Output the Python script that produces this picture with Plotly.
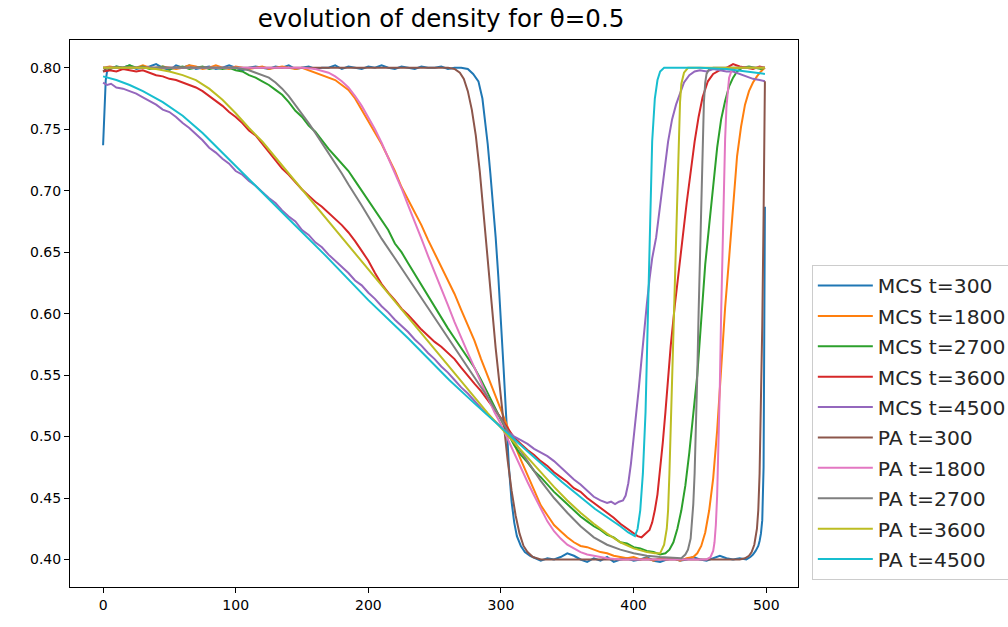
import plotly.graph_objects as go

# ---- data: (position, density) pairs ----
MCS_300 = [(0,0.737),(1,0.772),(2,0.790),(3,0.797),(5,0.799),(10,0.801),(15,0.800),(20,0.802),(25,0.799),(30,0.800),(35,0.801),(40,0.803),(45,0.800),(50,0.798),(55,0.802),(60,0.800),(65,0.802),(70,0.799),(75,0.800),(80,0.801),(85,0.799),(90,0.800),(95,0.802),(100,0.800),(105,0.798),(110,0.800),(115,0.801),(120,0.800),(125,0.799),(130,0.801),(135,0.800),(140,0.802),(145,0.799),(150,0.800),(155,0.801),(160,0.799),(165,0.800),(170,0.800),(175,0.802),(180,0.799),(185,0.801),(190,0.800),(195,0.799),(200,0.801),(205,0.800),(210,0.802),(215,0.800),(220,0.799),(225,0.801),(230,0.800),(235,0.799),(240,0.801),(245,0.800),(250,0.800),(255,0.801),(260,0.799),(265,0.800),(270,0.800),(275,0.799),(279,0.795),(283,0.789),(286,0.775),(288,0.758),(290,0.738),(292,0.714),(294,0.690),(296,0.662),(298,0.630),(300,0.595),(302,0.555),(304,0.515),(306,0.475),(308,0.447),(310,0.430),(312,0.419),(315,0.411),(318,0.406),(322,0.403),(326,0.401),(330,0.399),(335,0.401),(340,0.400),(345,0.402),(350,0.405),(355,0.403),(360,0.400),(365,0.398),(370,0.401),(375,0.399),(380,0.402),(385,0.398),(390,0.400),(395,0.401),(400,0.399),(405,0.400),(410,0.402),(415,0.399),(420,0.398),(425,0.400),(430,0.401),(435,0.399),(440,0.400),(445,0.402),(450,0.400),(455,0.399),(460,0.401),(465,0.403),(470,0.401),(475,0.400),(480,0.401),(485,0.400),(488,0.402),(490,0.404),(492,0.407),(494,0.411),(495,0.415),(496,0.421),(497,0.432),(498,0.475),(499,0.687)]

MCS_1800 = [(0,0.800),(5,0.801),(10,0.800),(15,0.799),(20,0.801),(25,0.800),(30,0.802),(35,0.800),(40,0.799),(45,0.801),(50,0.800),(55,0.799),(60,0.800),(65,0.802),(70,0.801),(75,0.799),(80,0.800),(85,0.802),(90,0.800),(95,0.799),(100,0.801),(105,0.800),(110,0.799),(115,0.800),(120,0.801),(125,0.799),(130,0.800),(135,0.801),(140,0.800),(145,0.799),(150,0.800),(155,0.798),(160,0.796),(165,0.794),(170,0.792),(175,0.790),(180,0.786),(185,0.782),(190,0.775),(195,0.766),(200,0.757),(205,0.747),(210,0.738),(215,0.727),(220,0.716),(225,0.703),(230,0.693),(235,0.682),(240,0.672),(245,0.660),(250,0.649),(255,0.639),(260,0.628),(265,0.616),(270,0.603),(275,0.591),(280,0.578),(285,0.563),(290,0.549),(295,0.535),(300,0.522),(305,0.508),(310,0.494),(315,0.481),(320,0.469),(325,0.457),(330,0.444),(335,0.436),(340,0.428),(345,0.423),(350,0.418),(355,0.414),(360,0.411),(365,0.410),(370,0.408),(375,0.406),(380,0.405),(385,0.403),(390,0.402),(395,0.401),(400,0.402),(405,0.400),(410,0.401),(415,0.399),(420,0.401),(425,0.400),(430,0.401),(435,0.399),(440,0.401),(445,0.402),(448,0.405),(451,0.411),(454,0.422),(457,0.440),(460,0.466),(463,0.505),(466,0.555),(469,0.605),(472,0.645),(475,0.690),(478,0.728),(481,0.752),(484,0.770),(487,0.781),(490,0.788),(493,0.793),(496,0.797),(499,0.800)]

MCS_2700 = [(0,0.800),(5,0.799),(10,0.801),(15,0.800),(20,0.802),(25,0.800),(30,0.801),(35,0.799),(40,0.800),(45,0.801),(50,0.799),(55,0.800),(60,0.801),(65,0.799),(70,0.800),(75,0.801),(80,0.799),(85,0.800),(90,0.799),(95,0.800),(100,0.798),(105,0.797),(110,0.794),(115,0.792),(120,0.789),(125,0.786),(130,0.782),(135,0.778),(140,0.772),(145,0.765),(150,0.760),(155,0.753),(160,0.748),(165,0.741),(170,0.734),(175,0.728),(180,0.722),(185,0.716),(190,0.708),(195,0.700),(200,0.692),(205,0.684),(210,0.677),(215,0.668),(220,0.657),(225,0.650),(230,0.641),(235,0.632),(240,0.623),(245,0.614),(250,0.606),(255,0.597),(260,0.588),(265,0.580),(270,0.572),(275,0.564),(280,0.556),(285,0.546),(290,0.535),(295,0.524),(300,0.514),(305,0.503),(310,0.493),(315,0.485),(320,0.479),(325,0.472),(330,0.467),(335,0.461),(340,0.455),(345,0.450),(350,0.445),(355,0.440),(360,0.435),(365,0.431),(370,0.427),(375,0.424),(380,0.420),(385,0.418),(390,0.414),(395,0.413),(400,0.410),(405,0.409),(410,0.407),(415,0.406),(420,0.404),(424,0.405),(427,0.408),(430,0.414),(433,0.425),(436,0.440),(439,0.460),(442,0.487),(445,0.518),(448,0.550),(451,0.595),(454,0.640),(457,0.672),(460,0.706),(463,0.735),(466,0.758),(469,0.773),(472,0.785),(475,0.792),(478,0.797),(482,0.800),(487,0.801),(492,0.800),(496,0.799),(499,0.800)]

MCS_3600 = [(0,0.797),(5,0.798),(10,0.797),(15,0.799),(20,0.798),(25,0.797),(30,0.798),(35,0.796),(40,0.794),(45,0.793),(50,0.791),(55,0.790),(60,0.788),(65,0.786),(70,0.784),(75,0.781),(80,0.777),(85,0.773),(90,0.769),(95,0.764),(100,0.760),(105,0.755),(110,0.749),(115,0.745),(120,0.738),(125,0.731),(130,0.725),(135,0.718),(140,0.713),(145,0.707),(150,0.701),(155,0.696),(160,0.691),(165,0.687),(170,0.682),(175,0.677),(180,0.672),(185,0.666),(190,0.659),(195,0.651),(200,0.643),(205,0.633),(210,0.624),(215,0.617),(220,0.611),(225,0.604),(230,0.599),(235,0.593),(240,0.587),(245,0.582),(250,0.577),(255,0.573),(260,0.568),(265,0.563),(270,0.556),(275,0.549),(280,0.543),(285,0.537),(290,0.530),(295,0.522),(300,0.515),(305,0.507),(310,0.499),(315,0.494),(320,0.489),(325,0.485),(330,0.480),(335,0.476),(340,0.471),(345,0.467),(350,0.463),(355,0.458),(360,0.455),(365,0.450),(370,0.446),(375,0.442),(380,0.438),(385,0.434),(390,0.429),(395,0.425),(400,0.421),(403,0.419),(406,0.418),(409,0.421),(412,0.424),(414,0.430),(416,0.440),(418,0.453),(420,0.472),(422,0.495),(424,0.520),(426,0.548),(428,0.574),(431,0.606),(434,0.636),(437,0.662),(440,0.690),(443,0.715),(446,0.740),(449,0.760),(452,0.776),(456,0.789),(460,0.795),(465,0.798),(470,0.800),(475,0.803),(480,0.801),(485,0.800),(490,0.799),(495,0.801),(499,0.800)]

MCS_4500 = [(0,0.788),(3,0.786),(6,0.787),(10,0.784),(15,0.783),(20,0.781),(25,0.779),(30,0.776),(35,0.773),(40,0.770),(45,0.766),(50,0.764),(55,0.760),(60,0.755),(65,0.751),(70,0.746),(75,0.741),(80,0.735),(85,0.731),(90,0.726),(95,0.722),(100,0.716),(105,0.713),(110,0.708),(115,0.704),(120,0.699),(125,0.694),(130,0.690),(135,0.684),(140,0.679),(145,0.675),(150,0.668),(155,0.664),(160,0.658),(165,0.654),(170,0.648),(175,0.643),(180,0.638),(185,0.633),(190,0.627),(195,0.623),(200,0.617),(205,0.612),(210,0.606),(215,0.601),(220,0.595),(225,0.590),(230,0.585),(235,0.579),(240,0.574),(245,0.568),(250,0.563),(255,0.557),(260,0.552),(265,0.546),(270,0.540),(275,0.535),(280,0.529),(285,0.523),(290,0.518),(295,0.513),(300,0.508),(305,0.504),(310,0.500),(315,0.497),(320,0.494),(325,0.490),(330,0.487),(335,0.484),(340,0.480),(345,0.475),(350,0.470),(355,0.465),(360,0.461),(365,0.456),(370,0.451),(375,0.448),(380,0.446),(383,0.447),(386,0.445),(389,0.447),(392,0.448),(394,0.452),(396,0.462),(398,0.478),(400,0.497),(402,0.518),(404,0.540),(406,0.563),(408,0.588),(410,0.608),(412,0.628),(414,0.645),(417,0.662),(420,0.690),(423,0.714),(426,0.740),(429,0.758),(432,0.770),(435,0.779),(438,0.788),(442,0.794),(446,0.797),(450,0.798),(455,0.797),(460,0.799),(465,0.798),(470,0.797),(475,0.797),(480,0.795),(485,0.793),(490,0.791),(495,0.790),(499,0.789)]

PA_300 = [(0,0.797),(3,0.800),(50,0.800),(100,0.800),(150,0.800),(200,0.800),(250,0.800),(260,0.800),(265,0.799),(269,0.796),(272,0.791),(275,0.781),(278,0.766),(281,0.745),(284,0.716),(287,0.682),(290,0.645),(293,0.608),(296,0.572),(299,0.540),(302,0.510),(305,0.481),(308,0.456),(311,0.436),(314,0.421),(317,0.411),(320,0.406),(324,0.402),(330,0.400),(400,0.400),(480,0.400),(484,0.401),(487,0.403),(489,0.406),(491,0.412),(493,0.425),(494,0.440),(495,0.470),(496,0.520),(497,0.590),(498,0.680),(499,0.789)]

PA_1800 = [(0,0.800),(100,0.800),(150,0.800),(160,0.799),(170,0.796),(175,0.793),(180,0.789),(185,0.784),(190,0.777),(195,0.769),(200,0.760),(205,0.750),(210,0.739),(215,0.727),(220,0.715),(225,0.702),(230,0.688),(235,0.675),(240,0.661),(245,0.647),(250,0.634),(255,0.620),(260,0.607),(265,0.593),(270,0.580),(275,0.568),(280,0.556),(285,0.544),(290,0.532),(295,0.520),(300,0.510),(305,0.498),(310,0.486),(315,0.474),(320,0.463),(325,0.452),(330,0.441),(335,0.431),(340,0.423),(345,0.417),(350,0.412),(355,0.409),(360,0.406),(365,0.404),(370,0.403),(375,0.402),(380,0.401),(390,0.400),(455,0.400),(458,0.402),(460,0.407),(461,0.414),(462,0.428),(463,0.452),(464,0.490),(465,0.540),(466,0.600),(467,0.655),(468,0.705),(469,0.742),(470,0.768),(471,0.783),(472,0.792),(474,0.798),(477,0.800),(499,0.800)]

PA_2700 = [(0,0.800),(50,0.800),(100,0.800),(110,0.798),(115,0.796),(120,0.794),(125,0.792),(130,0.788),(135,0.783),(140,0.777),(145,0.770),(150,0.763),(155,0.755),(160,0.747),(165,0.739),(170,0.731),(175,0.722),(180,0.714),(185,0.705),(190,0.697),(195,0.688),(200,0.679),(205,0.670),(210,0.661),(220,0.645),(230,0.629),(240,0.613),(250,0.597),(260,0.581),(270,0.565),(280,0.548),(290,0.532),(300,0.514),(305,0.505),(310,0.496),(320,0.480),(330,0.464),(340,0.450),(350,0.438),(360,0.427),(370,0.418),(380,0.412),(390,0.408),(400,0.405),(410,0.403),(420,0.402),(430,0.401),(436,0.401),(439,0.404),(441,0.408),(443,0.417),(444,0.428),(445,0.445),(446,0.470),(447,0.505),(448,0.550),(449,0.600),(450,0.648),(451,0.700),(452,0.745),(453,0.772),(454,0.788),(455,0.795),(457,0.799),(460,0.800),(499,0.800)]

PA_3600 = [(0,0.800),(20,0.800),(30,0.800),(40,0.799),(50,0.797),(60,0.794),(70,0.790),(80,0.783),(90,0.774),(100,0.763),(110,0.751),(120,0.740),(130,0.727),(140,0.714),(150,0.701),(160,0.688),(170,0.675),(180,0.662),(190,0.649),(200,0.636),(210,0.623),(220,0.610),(230,0.597),(240,0.584),(250,0.571),(260,0.558),(270,0.545),(280,0.532),(290,0.519),(300,0.507),(310,0.495),(320,0.483),(330,0.471),(340,0.459),(350,0.448),(360,0.438),(370,0.429),(380,0.421),(390,0.414),(400,0.409),(410,0.406),(416,0.405),(420,0.405),(423,0.412),(425,0.425),(426,0.440),(427,0.470),(428,0.510),(429,0.550),(430,0.590),(431,0.625),(432,0.660),(433,0.700),(434,0.740),(435,0.772),(436,0.787),(438,0.796),(441,0.800),(499,0.800)]

PA_4500 = [(0,0.793),(10,0.790),(20,0.786),(30,0.781),(45,0.772),(60,0.761),(75,0.747),(90,0.731),(105,0.715),(120,0.699),(140,0.677),(167,0.648),(200,0.611),(230,0.580),(261,0.546),(280,0.527),(303,0.505),(321,0.487),(346,0.463),(371,0.441),(390,0.427),(396,0.422),(401,0.419),(403,0.425),(405,0.440),(407,0.470),(409,0.520),(411,0.600),(412,0.650),(413,0.700),(414,0.740),(416,0.775),(418,0.790),(420,0.797),(423,0.800),(450,0.800),(470,0.799),(485,0.797),(499,0.795)]

SERIES = [
    ("MCS t=300", MCS_300, "#1f77b4"),
    ("MCS t=1800", MCS_1800, "#ff7f0e"),
    ("MCS t=2700", MCS_2700, "#2ca02c"),
    ("MCS t=3600", MCS_3600, "#d62728"),
    ("MCS t=4500", MCS_4500, "#9467bd"),
    ("PA t=300", PA_300, "#8c564b"),
    ("PA t=1800", PA_1800, "#e377c2"),
    ("PA t=2700", PA_2700, "#7f7f7f"),
    ("PA t=3600", PA_3600, "#bcbd22"),
    ("PA t=4500", PA_4500, "#17becf"),
]

X_TICKS = [0, 100, 200, 300, 400, 500]
Y_TICKS = [0.40, 0.45, 0.50, 0.55, 0.60, 0.65, 0.70, 0.75, 0.80]
TITLE = "evolution of density for θ=0.5"

fig = go.Figure()
for i, (name, pts, color) in enumerate(SERIES):
    fig.add_trace(go.Scatter(
        x=[p[0] for p in pts], y=[p[1] for p in pts],
        mode="lines", name=name, legendgroup=f"g{i}",
        line=dict(color=color, width=2),
    ))

font = "DejaVu Sans"
axis_common = dict(showline=True, linecolor="black", linewidth=1, mirror=True,
                   ticks="outside", ticklen=5, tickcolor="black", tickwidth=1,
                   showgrid=False, zeroline=False,
                   tickfont=dict(family=font, size=14, color="black"))

fig.update_layout(
    width=1008, height=627,
    margin=dict(l=70, r=210, t=40, b=40, autoexpand=False),
    paper_bgcolor="white", plot_bgcolor="white",
    title=dict(text=TITLE, x=441 / 1008, xanchor="center",
               y=1 - 18 / 627, yanchor="middle",
               font=dict(family=font, size=24.5, color="black")),
    xaxis=dict(range=[-24.95, 523.95], tickvals=X_TICKS, **axis_common),
    yaxis=dict(range=[0.3776, 0.8226], tickvals=Y_TICKS, tickformat=".2f", **axis_common),
    legend=dict(x=1.019, xanchor="left", y=0.589, yanchor="top",
                font=dict(family=font, size=20.3, color="#262626"),
                bgcolor="white", bordercolor="#cccccc", borderwidth=1,
                tracegroupgap=1, traceorder="grouped", itemwidth=55),
    showlegend=True,
)

fig.write_html("out.html")
